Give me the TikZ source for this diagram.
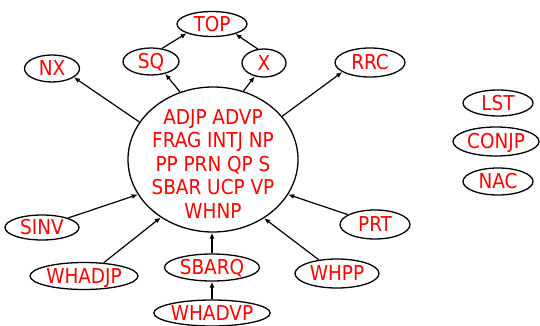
\documentclass[tikz,border=0pt]{standalone}
\usepackage{fontspec}
\setmainfont{DejaVu Sans Condensed}
\usetikzlibrary{shapes.geometric,arrows.meta}
\begin{document}
\begin{tikzpicture}[x=1pt,y=-1pt,
  lbl/.style={ellipse,draw=black,line width=1.3pt,inner sep=0pt,text=red,
    font=\fontsize{20.5}{23.5}\selectfont,text height=14.5pt,text depth=0pt},
  conn/.style={draw=black,line width=1.2pt,-{Latex[length=6pt,width=5pt]}}]
\useasboundingbox (0,0) rectangle (540,326);
% central
\node[ellipse,draw=black,line width=1.3pt,minimum width=170pt,minimum height=145pt,inner sep=0pt] (c) at (213,159.5) {};
\node[text=red,align=center,inner sep=0pt,font=\fontsize{20.5}{23.5}\selectfont] (ct) at (213,164)
  {ADJP ADVP\\FRAG INTJ NP\\PP PRN QP S\\SBAR UCP VP\\WHNP};
% nodes
\node[lbl,minimum width=70pt,minimum height=25pt] (top) at (212,24) {TOP};
\node[lbl,minimum width=56pt,minimum height=27pt] (sq) at (151,61.5) {SQ};
\node[lbl,minimum width=44pt,minimum height=28pt] (x) at (264,63) {X};
\node[lbl,minimum width=55pt,minimum height=27pt] (nx) at (52,68.5) {NX};
\node[lbl,minimum width=70pt,minimum height=29pt] (rrc) at (370,62.5) {RRC};
\node[lbl,minimum width=70pt,minimum height=26pt] (lst) at (498,103) {LST};
\node[lbl,minimum width=86pt,minimum height=29pt] (conjp) at (496,141.5) {CONJP};
\node[lbl,minimum width=70pt,minimum height=27pt] (nac) at (498,181.5) {NAC};
\node[lbl,minimum width=70pt,minimum height=29pt] (prt) at (375,224.5) {PRT};
\node[lbl,minimum width=84pt,minimum height=29pt] (whpp) at (337,273.5) {WHPP};
\node[lbl,minimum width=74pt,minimum height=25pt] (sinv) at (42,227.5) {SINV};
\node[lbl,minimum width=108pt,minimum height=27pt] (whadjp) at (84,276) {WHADJP};
\node[lbl,minimum width=95pt,minimum height=27pt] (sbarq) at (212,267.5) {SBARQ};
\node[lbl,minimum width=116pt,minimum height=26pt] (whadvp) at (212,313) {WHADVP};
% connectors
\draw[conn] (sq.50) -- (top.200.6);
\draw[conn] (x.114) -- (top.-23);
\draw[conn] (c.116) -- (sq.-41.5);
\draw[conn] (c.66.3) -- (x.235);
\draw[conn] (c.153.1) -- (nx.-22.4);
\draw[conn] (c.32.2) -- (rrc.199.3);
\draw[conn] (prt.160.7) -- (c.-25.6);
\draw[conn] (whpp.143.6) -- (c.-49);
\draw[conn] (sinv.20.7) -- (c.205.3);
\draw[conn] (whadjp.34) -- (c.228);
\draw[conn] (sbarq.north) -- (sbarq.north |- c.south);
\draw[conn] (whadvp.north) -- (sbarq.south);
\end{tikzpicture}
\end{document}
